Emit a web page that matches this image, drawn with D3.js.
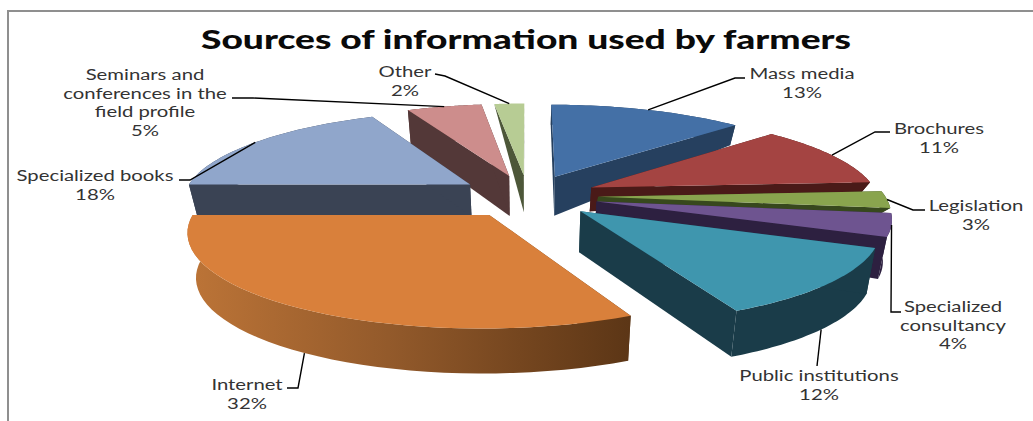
<!DOCTYPE html>
<html>
<head>
<meta charset="utf-8">
<script src="https://cdn.jsdelivr.net/npm/d3@7/dist/d3.min.js"></script>
<style>
  html, body { margin: 0; padding: 0; background: #fff; overflow: hidden; }
  svg { display: block; }
  text { font-family: Lato, "Open Sans", sans-serif; }
</style>
</head>
<body>
<svg id="chart" width="1033" height="421"></svg>
<script>
// Share of each information source, clockwise from twelve o'clock.
const categories = ["Mass media", "Brochures", "Legislation", "Specialized consultancy",
  "Public institutions", "Internet", "Specialized books",
  "Seminars and conferences in the field profile", "Other"];
const shares = [13, 11, 3, 4, 12, 32, 18, 5, 2];

// Label line breaks, one entry per category.
const labelLines = [["Mass media"], ["Brochures"], ["Legislation"], ["Specialized", "consultancy"],
  ["Public institutions"], ["Internet"], ["Specialized books"],
  ["Seminars and", "conferences in the", "field profile"], ["Other"]];

// Surface colours per slice.
const topColors = ["#4470a6", "#a44442", "#89a44e", "#6e5490", "#3f96ae", "#d9803b", "#90a6cb", "#cd8d8c", "#b7cc94"];
const wallColors = ["#26405f", "#4a1a18", "#37481d", "#2d2040", "#1a3c49", "url(#internetWall)", "#3a4354", "#533838", "#4d5739"];

// Visible wall height per slice at the apex and at the rim.
const apexDepths = [39, 24, 12, 30, 41, 45, 32, 40, 37];
const rimDepths = [20, 10, 5, 42, 46, 45, 32, 35, 0];

// Label anchors: centre x and first baseline y, then leader elbow and leader end.
const labelAnchors = [[802, 79], [939, 134], [976, 211], [953, 312], [819, 381], [247, 390], [95, 181], [145, 80], [405, 77]];
const leaderElbows = [[735, 78], [875, 132], [913, 210], [891, 312], [817, 366], [298, 388], [190, 180], [253, 98], [445, 76]];
const leaderEnds = [[745, 78], [890, 132], [925, 210], [901, 312], [817, 366], [287, 388], [179, 180], [232, 98], [435, 74]];

// Pie geometry on the ground plane and its perspective projection.
const W = 1033, H = 421;
const cx = 528, cy = 196;
const radius = 287, explode = 70;
const tilt = 0.31, perspective = 0.00055, floorShrink = 0.975;

const svg = d3.select("#chart");

const defs = svg.append("defs");
const wallGrad = defs.append("linearGradient")
  .attr("id", "internetWall")
  .attr("gradientUnits", "userSpaceOnUse")
  .attr("x1", 190).attr("x2", 630).attr("y1", 0).attr("y2", 0);
[[0, "#bc7437"], [0.45, "#935a2b"], [0.75, "#75461f"], [1, "#5c3616"]].forEach(([o, c]) =>
  wallGrad.append("stop").attr("offset", o).attr("stop-color", c));

// Frame around the plot, open on the right and at the bottom.
svg.append("path")
  .attr("d", d3.line()([[W, 11], [8, 11], [8, H]]))
  .attr("fill", "none").attr("stroke", "#8f8f8f").attr("stroke-width", 2);

svg.append("text")
  .attr("x", 526).attr("y", 49)
  .attr("text-anchor", "middle")
  .attr("font-size", 26).attr("font-weight", 900).attr("fill", "#0a0a0a")
  .attr("textLength", 650).attr("lengthAdjust", "spacingAndGlyphs")
  .text("Sources of information used by farmers");

const arcs = d3.pie().sort(null).value(d => d)(shares);

// Ground-plane point to screen; depth lowers it and pulls it toward the centre line.
function project(u, v, depth) {
  const s = 1 / (1 - perspective * v);
  const x = cx + u * s;
  const y = cy + tilt * v * s;
  return depth ? [cx + (x - cx) * floorShrink, y + depth] : [x, y];
}

const slices = arcs.map((a, i) => {
  const mid = (a.startAngle + a.endAngle) / 2;
  const ax = explode * Math.sin(mid), av = -explode * Math.cos(mid);
  const rimPoint = (t, depth) => project(ax + radius * Math.sin(t), av - radius * Math.cos(t), depth);
  const steps = d3.range(0, 41).map(k => a.startAngle + (a.endAngle - a.startAngle) * k / 40);
  return {
    i, mid, rimPoint, steps,
    apex: project(ax, av, 0),
    apexFloor: project(ax, av, apexDepths[i]),
    rimTop: steps.map(t => rimPoint(t, 0)),
    rimFloor: steps.map(t => rimPoint(t, rimDepths[i]))
  };
});

const polygon = d3.line().curve(d3.curveLinearClosed);

// Back slices first so the nearer ones cover them.
const paintOrder = [8, 7, 6, 0, 1, 2, 3, 4, 5];
paintOrder.forEach(i => {
  const s = slices[i];
  const g = svg.append("g");
  const n = s.rimTop.length - 1;
  g.append("path").attr("d", polygon([...s.rimTop, ...s.rimFloor.slice().reverse()])).attr("fill", wallColors[i]);
  g.append("path").attr("d", polygon([s.apex, s.rimTop[0], s.rimFloor[0], s.apexFloor])).attr("fill", wallColors[i]);
  g.append("path").attr("d", polygon([s.apex, s.rimTop[n], s.rimFloor[n], s.apexFloor])).attr("fill", wallColors[i]);
  g.append("path").attr("d", polygon([s.apex, ...s.rimTop])).attr("fill", topColors[i]);
});

// Leaders start on the rim at each slice's mid angle; front slices use the wall foot.
const leader = d3.line();
slices.forEach(s => {
  const frontFacing = Math.cos(s.mid) < -0.3;
  const start = s.rimPoint(s.mid, frontFacing ? rimDepths[s.i] : 0);
  svg.append("path")
    .attr("d", leader([start, leaderElbows[s.i], leaderEnds[s.i]]))
    .attr("fill", "none").attr("stroke", "#000").attr("stroke-width", 1.4);
});

// Category labels with the share on the last line, widened horizontally.
const labelStretch = 1.4, labelSize = 14.5, lineStep = 18.6;
labelLines.forEach((lines, i) => {
  const [lx, ly] = labelAnchors[i];
  const text = svg.append("text")
    .attr("transform", `translate(${lx},${ly}) scale(${labelStretch},1)`)
    .attr("text-anchor", "middle")
    .attr("font-size", labelSize)
    .attr("fill", "#333");
  [...lines, shares[i] + "%"].forEach((line, k) =>
    text.append("tspan").attr("x", 0).attr("y", k * lineStep).text(line));
});
</script>
</body>
</html>
